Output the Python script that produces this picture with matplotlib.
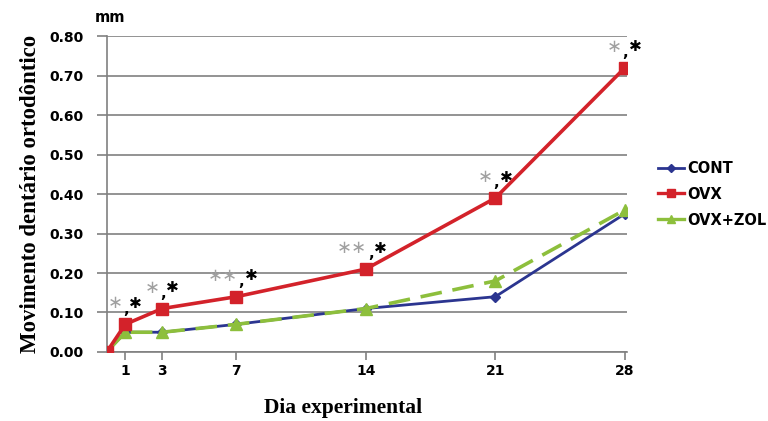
import numpy as np
import matplotlib.pyplot as plt
from matplotlib.lines import Line2D

# data
days = [0, 1, 3, 7, 14, 21, 28]
cont = [0.00, 0.05, 0.05, 0.07, 0.11, 0.14, 0.35]
ovx = [0.00, 0.07, 0.11, 0.14, 0.21, 0.39, 0.72]
ovx_zol = [0.00, 0.05, 0.05, 0.07, 0.11, 0.18, 0.36]

# significance marks above the OVX points: gray part, then ",*" in black
sig_gray = ['\u2217', '\u2217', '\u2217\u2217', '\u2217\u2217', '\u2217', '\u2217']
sig_black = ['\u2731'] * 6

fig = plt.figure(figsize=(7.68, 4.21), dpi=100)
ax = fig.add_axes([0.139, 0.164, 0.677, 0.750])

ax.set_ylim(0, 0.80)
ax.set_xlim(0, 28.1)
ax.set_yticks(np.arange(0, 0.81, 0.10))
ax.set_yticklabels(['%.2f' % v for v in np.arange(0, 0.81, 0.10)])
ax.set_xticks(days[1:])

ax.yaxis.grid(True, color='#808080', linewidth=1.2)
ax.set_axisbelow(True)
for s in ['top', 'right']:
    ax.spines[s].set_visible(False)
for s in ['left', 'bottom']:
    ax.spines[s].set_color('#808080')
    ax.spines[s].set_linewidth(1.2)
ax.tick_params(axis='y', length=7, color='#808080', width=1.2, pad=10)
ax.tick_params(axis='x', length=6, color='#808080', width=1.2, pad=3)
for lab in ax.get_xticklabels() + ax.get_yticklabels():
    lab.set_fontweight('bold')
    lab.set_fontsize(10)

ax.plot(days, cont, color='#2b3590', linewidth=2, marker='D', markersize=5,
        label='CONT', zorder=3)
ax.plot(days, ovx, color='#d3222a', linewidth=2.6, marker='s', markersize=8,
        label='OVX', zorder=4)
ax.plot(days, ovx_zol, color='#8dbf3c', linewidth=2.6, linestyle=(0, (6, 3)),
        marker='^', markersize=8, label='OVX+ZOL', zorder=3)

for x, y, g, b in zip(days[1:], ovx[1:], sig_gray, sig_black):
    shift = 3 if len(g) > 1 else 0
    ax.annotate(g, (x, y), xytext=(-2 + shift, 15), textcoords='offset points',
                ha='right', va='center', color='#a0a0a0', fontsize=13)
    ax.annotate(',', (x, y), xytext=(0.5 + shift, 11), textcoords='offset points',
                ha='center', va='center', color='black', fontsize=11,
                fontweight='bold')
    ax.annotate(b, (x, y), xytext=(3 + shift, 15), textcoords='offset points',
                ha='left', va='center', color='black', fontsize=11)

fig.text(95 / 768, 1 - 18 / 421, 'mm', fontsize=10.5, fontweight='bold',
         ha='left', va='center')

ax.set_ylabel('Movimento dentário ortodôntico', family='Liberation Serif',
              fontweight='bold', fontsize=16.5, labelpad=6)
ax.set_xlabel('Dia experimental', family='Liberation Serif',
              fontweight='bold', fontsize=15.5)
ax.xaxis.set_label_coords((343 - 107) / 520, -(398 - 352) / 316)

handles = [Line2D([], [], color='#2b3590', linewidth=2, marker='D', markersize=4),
           Line2D([], [], color='#d3222a', linewidth=2.4, marker='s', markersize=6),
           Line2D([], [], color='#8dbf3c', linewidth=2.4, marker='^', markersize=6)]
leg = ax.legend(handles, ['CONT', 'OVX', 'OVX+ZOL'], loc='center left',
                bbox_to_anchor=(1.035, 0.50), frameon=False, handlelength=1.8,
                handletextpad=0.2, labelspacing=0.75,
                prop={'weight': 'bold', 'size': 10.5})

fig.savefig('out.png', dpi=100)
